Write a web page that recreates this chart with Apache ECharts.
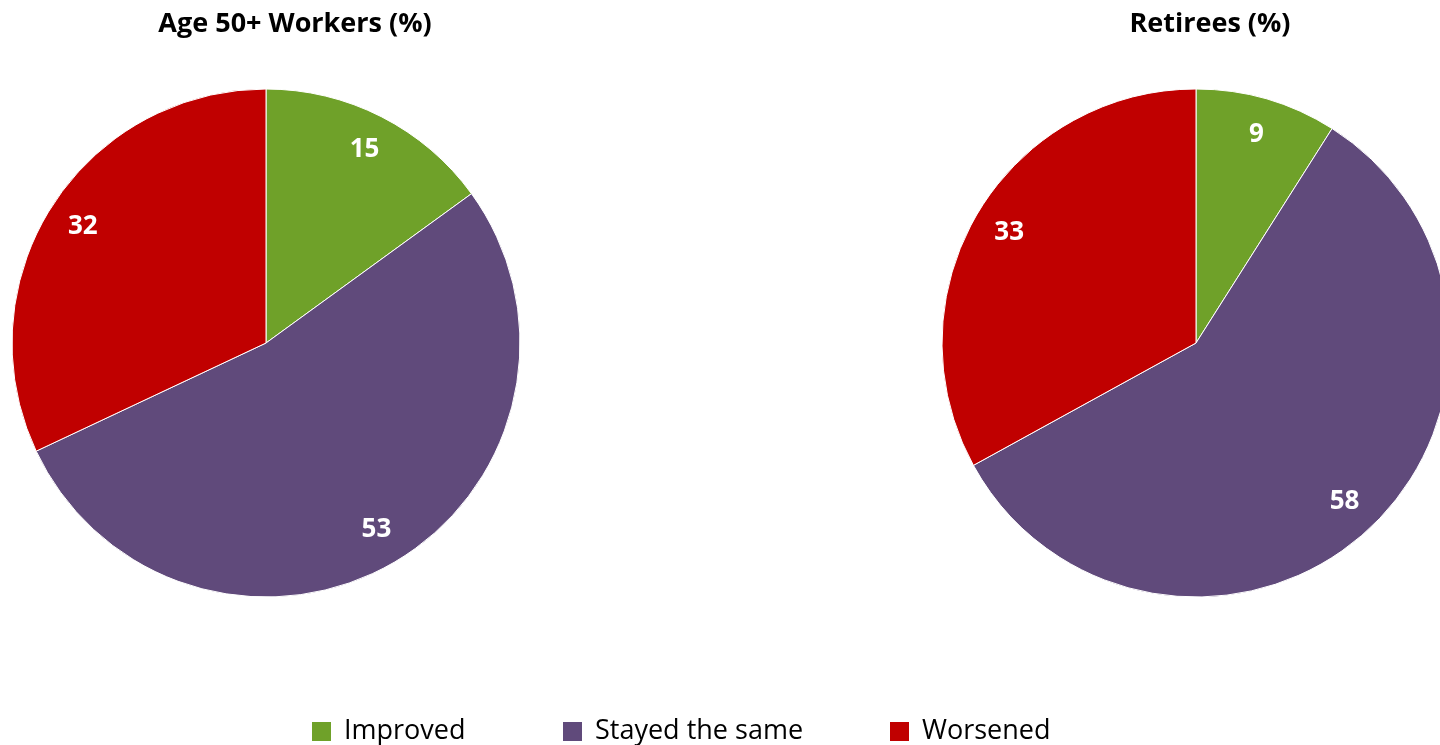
<!DOCTYPE html>
<html>
<head>
<meta charset="utf-8">
<script src="https://cdn.jsdelivr.net/npm/echarts@6/dist/echarts.min.js"></script>
<style>
  html, body { margin: 0; padding: 0; background: #fff; }
  #chart { width: 1440px; height: 745px; }
</style>
</head>
<body>
<div id="chart"></div>
<script>
// categories and values
const categories = ['Improved', 'Stayed the same', 'Worsened'];
const workers = [15, 53, 32];
const retirees = [9, 58, 33];
const colors = ['#6FA129', '#604A7B', '#C00000'];

const font = '"Open Sans", sans-serif';
const chart = echarts.init(document.getElementById('chart'));

const toData = vals => vals.map((v, i) => ({ name: categories[i], value: v }));

// slices
const pieBase = (center, vals) => ({
  type: 'pie',
  center: center,
  radius: 254,
  startAngle: 90,
  clockwise: true,
  silent: true,
  label: { show: false },
  labelLine: { show: false },
  itemStyle: { borderColor: '#fff', borderWidth: 1 },
  data: toData(vals)
});

// transparent ring, only used to place the value labels out near the edge
const labelRing = (center, vals) => ({
  type: 'pie',
  center: center,
  radius: [174, 254],
  startAngle: 90,
  clockwise: true,
  silent: true,
  legendHoverLink: false,
  itemStyle: { color: 'rgba(0,0,0,0)' },
  label: {
    show: true,
    position: 'inside',
    formatter: '{c}',
    color: '#fff',
    fontFamily: font,
    fontWeight: 'bold',
    fontSize: 26,
    padding: [8, 0, 0, 0]
  },
  labelLine: { show: false },
  data: toData(vals)
});

const legendAt = (i, left) => ({
  data: [categories[i]],
  left: left,
  top: 713,
  itemWidth: 19,
  itemHeight: 19,
  icon: 'rect',
  selectedMode: false,
  itemStyle: { borderWidth: 0 },
  textStyle: { fontFamily: font, fontSize: 27, color: '#000', padding: [0, 0, 0, 8] }
});

chart.setOption({
  color: colors,
  animation: false,
  title: [
    { text: 'Age 50+ Workers (%)', left: 290, top: 6, textAlign: 'center',
      textStyle: { fontFamily: font, fontWeight: 'bold', fontSize: 27, color: '#000' } },
    { text: 'Retirees (%)', left: 1205, top: 6, textAlign: 'center',
      textStyle: { fontFamily: font, fontWeight: 'bold', fontSize: 27, color: '#000' } }
  ],
  legend: [legendAt(0, 307), legendAt(1, 558), legendAt(2, 885)],
  series: [
    pieBase([266, 343], workers),
    labelRing([266, 343], workers),
    pieBase([1196, 343], retirees),
    labelRing([1196, 343], retirees)
  ]
});
</script>
</body>
</html>
